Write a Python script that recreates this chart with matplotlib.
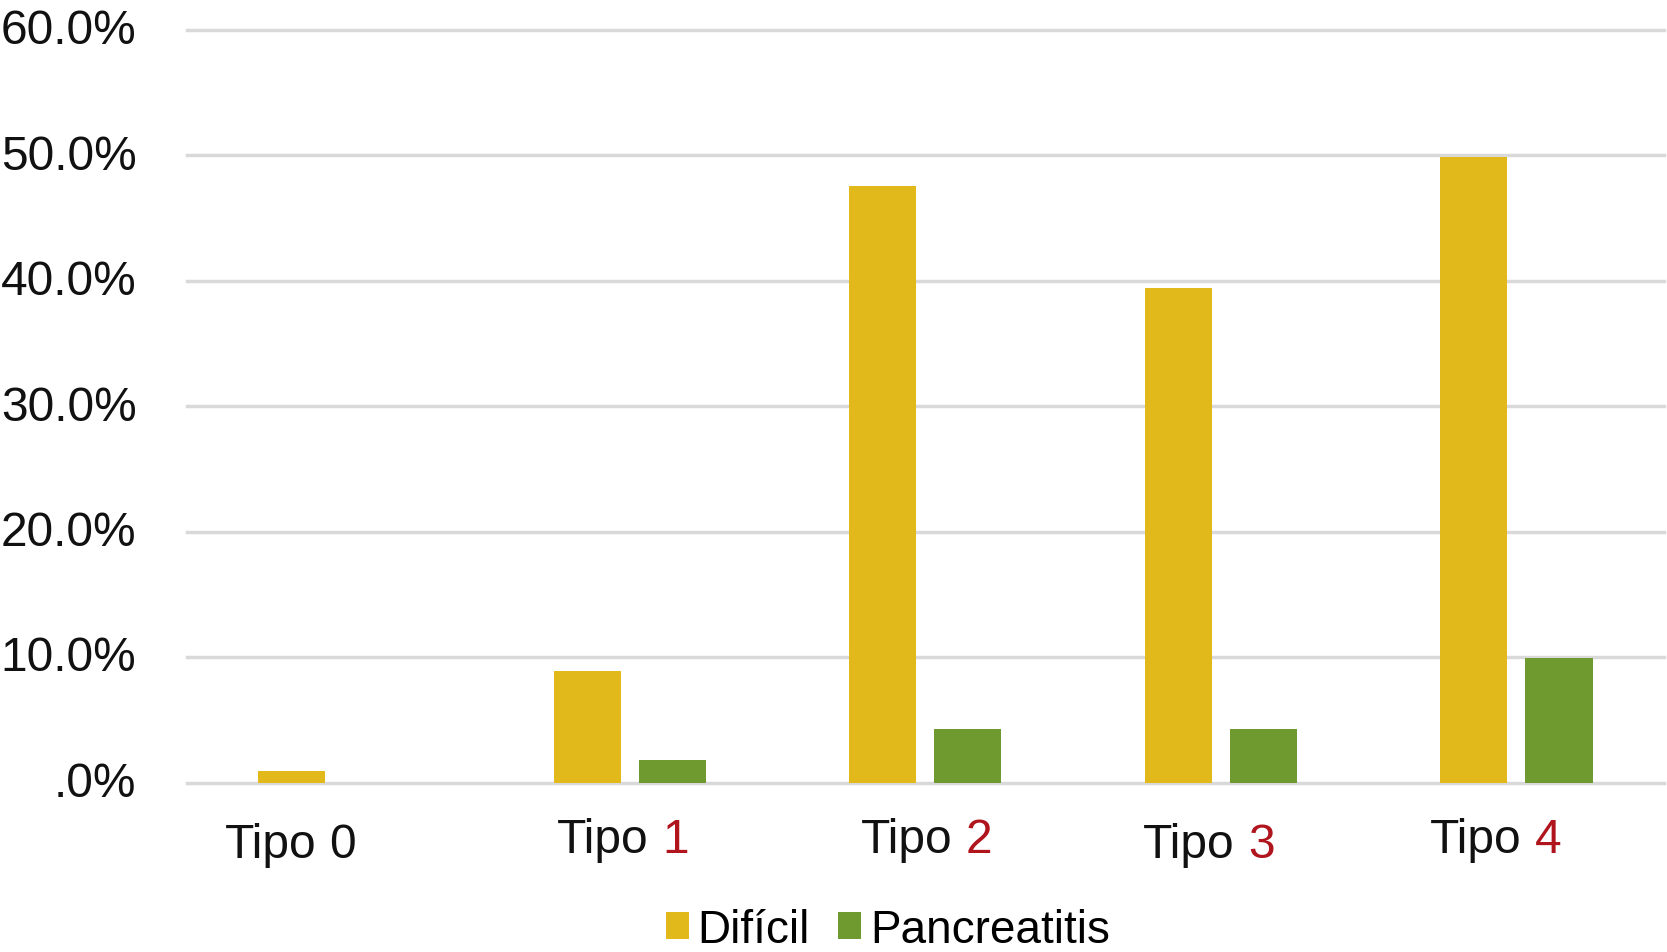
import matplotlib
matplotlib.use("Agg")
import matplotlib.pyplot as plt
import matplotlib.transforms as mtransforms
from matplotlib.offsetbox import TextArea, HPacker, AnnotationBbox
from matplotlib.patches import Patch
import numpy as np

# ---- data ----
categories = ["0", "1", "2", "3", "4"]
dificil = [0.9, 8.9, 47.6, 39.4, 49.9]
pancreatitis = [0.0, 1.8, 4.3, 4.3, 9.9]
ytick_vals = [0, 10, 20, 30, 40, 50, 60]
ytick_labels = [".0%", "10.0%", "20.0%", "30.0%", "40.0%", "50.0%", "60.0%"]
series_names = ["Difícil", "Pancreatitis"]

# ---- style ----
YELLOW = "#E1B91B"
GREEN = "#6E9A2F"
RED = "#B0141C"
GRID = "#D9D9D9"
FONT = "Liberation Sans"
FS = 34.5

plt.rcParams['font.family'] = [FONT, 'DejaVu Sans']

fig = plt.figure(figsize=(16.67, 9.53), dpi=100)
W, H = 1667, 953
ax = fig.add_axes([186.6 / W, 1 - 783.5 / H, (1664.2 - 186.6) / W, (783.5 - 31) / H])

x = np.arange(len(categories))
bw = 0.227
off = 0.144
ax.bar(x - off, dificil, width=bw, color=YELLOW, zorder=3)
ax.bar(x + off, pancreatitis, width=bw, color=GREEN, zorder=3)

ax.set_xlim(-0.5, 4.5)
ax.set_ylim(0, 60)
for s in ax.spines.values():
    s.set_visible(False)

for v in ytick_vals:
    ax.axhline(v, color=GRID, lw=2.5, zorder=1, clip_on=False)

ax.set_yticks(ytick_vals)
ax.set_yticklabels(ytick_labels, fontsize=FS, color="#111111")
ax.tick_params(axis='y', length=0, pad=36)
ax.tick_params(axis='x', length=0)
ax.set_xticks([])
shift = mtransforms.ScaledTranslation(0, 3 / 72, fig.dpi_scale_trans)
for lab in ax.get_yticklabels():
    lab.set_transform(lab.get_transform() + shift)

# x labels: "Tipo" black, number red
label_dx_px = [-44, -7, 1, -12, -21]
label_dy_px = [62, 57, 57, 62, 57]
for i, c in enumerate(categories):
    t1 = TextArea("Tipo", textprops=dict(fontsize=FS, color="#111111", family=FONT))
    num_color = "#111111" if i == 0 else RED
    t2 = TextArea(c, textprops=dict(fontsize=FS, color=num_color, family=FONT))
    box = HPacker(children=[t1, t2], pad=0, sep=9.5, align="baseline")
    ab = AnnotationBbox(box, (x[i], 0), xycoords=ax.get_xaxis_transform(),
                        xybox=(label_dx_px[i] * 0.72, -label_dy_px[i] * 0.72),
                        boxcoords="offset points", box_alignment=(0.5, 0.5),
                        frameon=False, pad=0, annotation_clip=False)
    ax.add_artist(ab)

LFS = 33
handles = [Patch(facecolor=YELLOW, edgecolor="none"), Patch(facecolor=GREEN, edgecolor="none")]
fig.legend(handles, series_names, loc="center", bbox_to_anchor=(888 / W, 1 - 931 / H),
           ncol=2, frameon=False, fontsize=LFS, handlelength=0.5, handleheight=0.52,
           handletextpad=0.19, columnspacing=0.62, borderpad=0, borderaxespad=0)

fig.savefig("out.png", dpi=100)
